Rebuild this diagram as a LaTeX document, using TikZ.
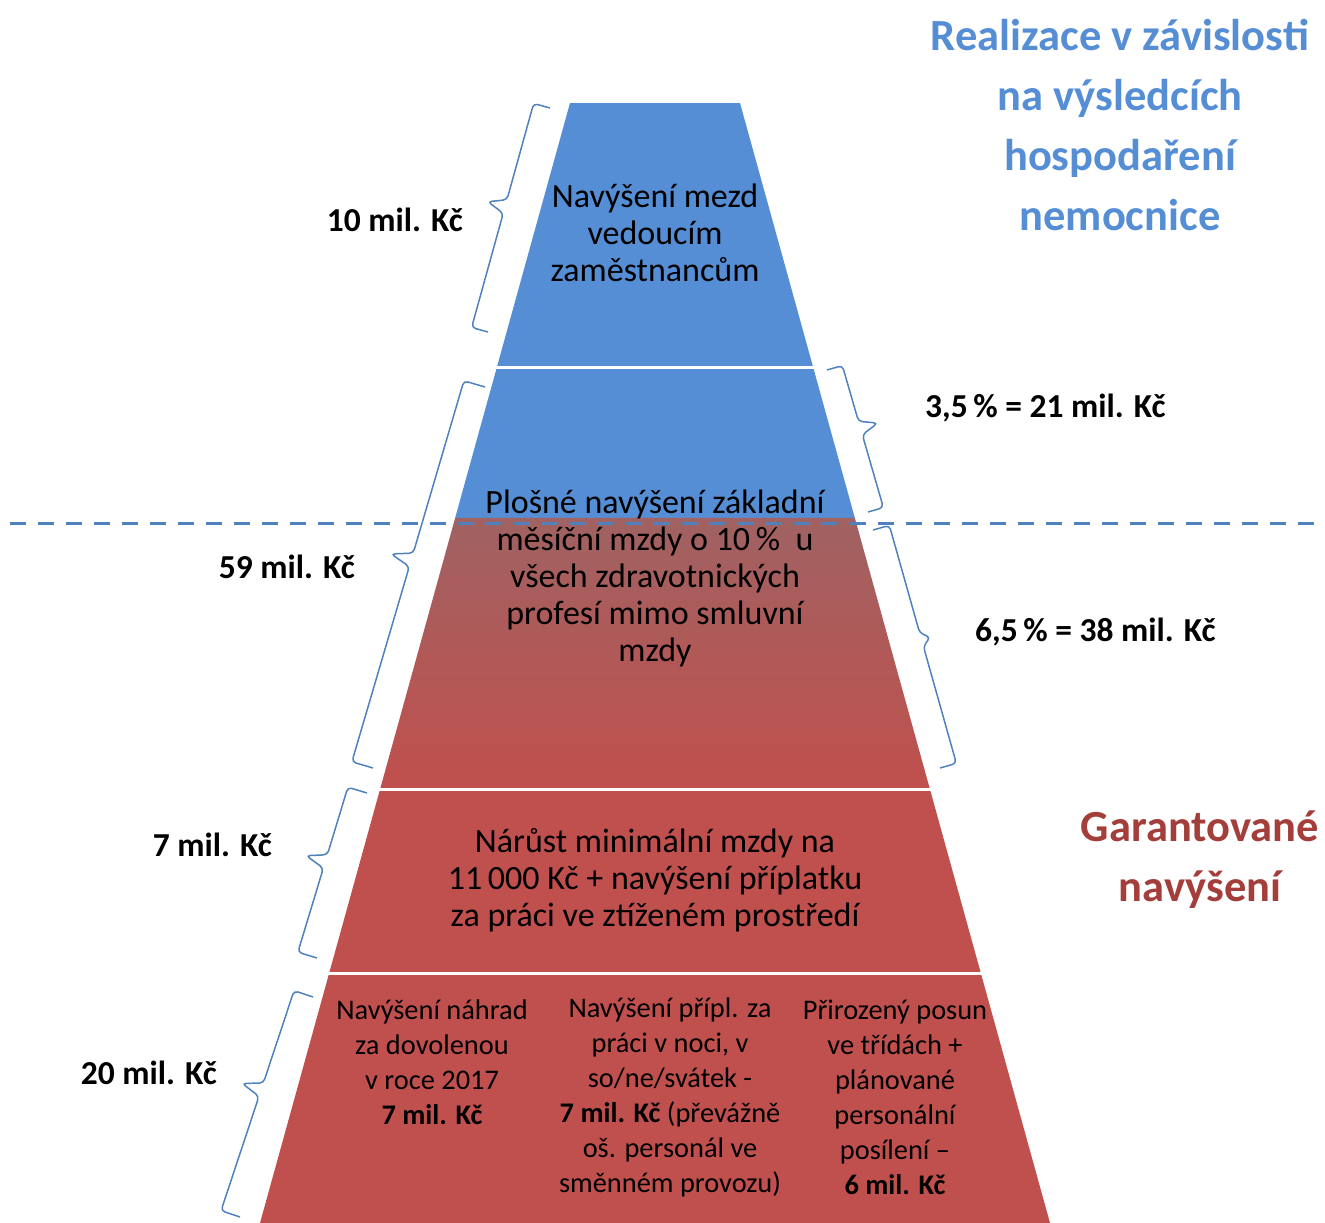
\documentclass[tikz,border=0pt]{standalone}
\usepackage{fontspec}
\setmainfont{Carlito}
\usetikzlibrary{calc}

\definecolor{pyrblue}{HTML}{558ED5}
\definecolor{pyrred}{HTML}{C0504D}
\definecolor{pyrmauve}{HTML}{A06262}
\definecolor{braceblue}{HTML}{4F81BD}
\definecolor{headred}{HTML}{A33E3B}

\tikzset{
  brc/.style={draw=braceblue, line width=1.5pt, rounded corners=4pt},
  sumlbl/.style={inner sep=0pt, font=\bfseries\fontsize{33.5}{38}\selectfont},
  bandtxt/.style={inner sep=0pt, align=center, font=\fontsize{34}{37}\selectfont},
  smalltxt/.style={inner sep=0pt, align=center, font=\fontsize{28.4}{35}\selectfont},
  headline/.style={inner sep=0pt, align=center, font=\bfseries\fontsize{44.5}{60}\selectfont}
}

\begin{document}
\begin{tikzpicture}[x=1pt,y=-1pt]
\useasboundingbox (0,0) rectangle (1325,1223);
\coordinate (apexL) at (570,103);
\coordinate (apexR) at (740,103);
\coordinate (baseL) at (260,1223);
\coordinate (baseR) at (1050,1223);
% one slice of the pyramid between two heights
\newcommand{\pyrslice}[3]{
  \path[#3] ($(apexL)!#1!(baseL)$) -- ($(apexR)!#1!(baseR)$)
    -- ($(apexR)!#2!(baseR)$) -- ($(apexL)!#2!(baseL)$) -- cycle;
}
% brace from #1 to #2, hook #3, tip #4, tip at #5 of the way
\newcommand{\sumbrace}[5]{
  \coordinate (bm) at ($(#1)!#5!(#2)$);
  \coordinate (bma) at ($(bm)!7pt!(#1)$);
  \coordinate (bmb) at ($(bm)!7pt!(#2)$);
  \draw[brc] (#1) -- ($(#1)!#3!90:(#2)$) -- ($(bma)!#3!90:(#2)$)
    -- ($(bm)!#4!90:(#2)$) -- ($(bmb)!#3!90:(#2)$)
    -- ($(#2)!#3!-90:(#1)$) -- (#2);
}
\pyrslice{0}{0.3705}{fill=pyrblue}
\pyrslice{0.3705}{0.6116}{top color=pyrmauve, bottom color=pyrred}
\pyrslice{0.6116}{1}{fill=pyrred}
% white gaps between the levels
\foreach \t in {0.2361,0.6129,0.7772}
  \draw[white, line width=3.5pt] ($(apexL)!\t!(baseL)+(-5,0)$) -- ($(apexR)!\t!(baseR)+(5,0)$);

% texts in the levels
\node[bandtxt] (vedouci) at (655,233) {Navýšení mezd\\vedoucím\\zaměstnancům};
\node[bandtxt] (plosne) at (655,578) {Plošné navýšení základní\\měsíční mzdy o 10\,\%~ u\\všech zdravotnických\\profesí mimo smluvní\\mzdy};
\node[bandtxt] (minmzda) at (655,880) {Nárůst minimální mzdy na\\11\,000 Kč + navýšení příplatku\\za práci ve ztíženém prostředí};
\node[smalltxt] (dovolena) at (432,1062) {Navýšení náhrad\\za dovolenou\\v roce 2017\\\textbf{7 mil. Kč}};
\node[smalltxt] (noci) at (670,1097) {Navýšení přípl. za\\práci v noci, v\\so/ne/svátek -\\\textbf{7 mil. Kč} (převážně\\oš. personál ve\\směnném provozu)};
\node[smalltxt] (posun) at (895,1097) {Přirozený posun\\ve třídách +\\plánované\\personální\\posílení –\\\textbf{6 mil. Kč}};

% headings on the right
\node[headline, text=pyrblue] (realiz) at (1120,125) {Realizace v závislosti\\na výsledcích\\hospodaření\\nemocnice};
\node[headline, text=headred] (garant) at (1200,860) {Garantované\\navýšení};

% braces
\coordinate (b1lo) at (488,332);  \coordinate (b1hi) at (550,108);
\coordinate (b2lo) at (373,768);  \coordinate (b2hi) at (485,387);
\coordinate (b3lo) at (317,958);  \coordinate (b3hi) at (367,793);
\coordinate (b4lo) at (240,1217); \coordinate (b4hi) at (313,997);
\coordinate (bAhi) at (827,370);  \coordinate (bAlo) at (868,512);
\coordinate (bBhi) at (873,530);  \coordinate (bBlo) at (940,768);
\sumbrace{b1lo}{b1hi}{17pt}{35pt}{0.54}
\sumbrace{b2lo}{b2hi}{22pt}{43pt}{0.53}
\sumbrace{b3lo}{b3hi}{20pt}{40pt}{0.55}
\sumbrace{b4lo}{b4hi}{20pt}{40pt}{0.55}
\sumbrace{bAhi}{bAlo}{16pt}{34pt}{0.44}
\sumbrace{bBhi}{bBlo}{17pt}{26pt}{0.48}

\node[sumlbl, anchor=east] (sum10) at (463,220) {10 mil. Kč};
\node[sumlbl, anchor=east] (sum59) at (355,567) {59 mil. Kč};
\node[sumlbl, anchor=east] (sum7) at (272,845) {7 mil. Kč};
\node[sumlbl, anchor=east] (sum20) at (217,1073) {20 mil. Kč};
\node[sumlbl, anchor=west] (sum21) at (925,408) {3,5\,\% = 21 mil. Kč};
\node[sumlbl, anchor=west] (sum38) at (975,632) {6,5\,\% = 38 mil. Kč};

% cut between guaranteed and conditional part
\coordinate (cutW) at (10,523);
\coordinate (cutE) at (1325,523);
\draw[braceblue, line width=3pt, dash pattern=on 16pt off 12pt] (cutW) -- (cutE);
\end{tikzpicture}
\end{document}
